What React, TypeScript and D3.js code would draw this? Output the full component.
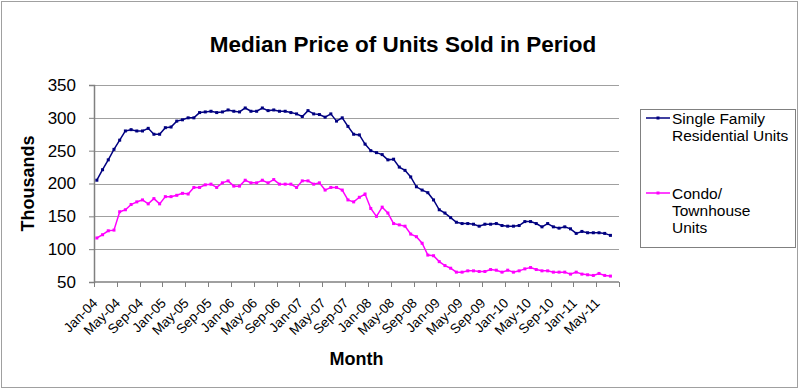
import React, { useEffect, useRef } from 'react';
import * as d3 from 'd3';

// categories: one per month, Jan-04 .. Aug-11 (data stops at Jul-11)
const months = d3.timeMonths(new Date(2004, 0, 1), new Date(2011, 8, 1)).map(d3.timeFormat('%b-%y'));

// median price, thousands
const singleFamily = [
  205, 221, 236, 252, 266, 280, 282, 280, 280, 284,
  275, 275, 285, 286, 295, 297, 300, 300, 308, 309,
  310, 308, 309, 312, 310, 309, 315, 310, 310, 315,
  311, 312, 310, 310, 308, 306, 302, 311, 306, 305,
  301, 306, 295, 300, 287, 275, 274, 260, 250, 247,
  244, 236, 237, 225, 220, 210, 195, 190, 186, 175,
  160, 155, 148, 141, 139, 139, 138, 135, 138, 138,
  139, 136, 135, 135, 136, 142, 142, 139, 134, 139,
  134, 132, 134, 131, 124, 127, 125, 125, 125, 124,
  121,
];

const condoTownhouse = [
  117, 122, 128, 129, 157, 160, 168, 172, 175, 169,
  177, 169, 180, 180, 182, 185, 184, 194, 194, 198,
  199, 194, 201, 204, 196, 196, 205, 201, 201, 205,
  201, 206, 199, 199, 199, 194, 204, 204, 199, 201,
  190, 194, 194, 190, 175, 172, 179, 184, 162, 150,
  164, 155, 139, 137, 135, 123, 119, 109, 91, 90,
  81, 75, 71, 65, 65, 67, 67, 66, 66, 69,
  68, 65, 68, 65, 67, 70, 72, 69, 67, 67,
  65, 65, 65, 62, 65, 62, 61, 60, 63, 60,
  59,
];

const yTicks = [50, 100, 150, 200, 250, 300, 350];

const seriesList = [
  { lines: ['Single Family', 'Residential Units'], values: singleFamily, color: '#000080' },
  { lines: ['Condo/', 'Townhouse', 'Units'], values: condoTownhouse, color: '#ff00ff' },
];

const FONT = 'Arial, "Liberation Sans", sans-serif';

export default function App() {
  const chartRef = useRef<SVGSVGElement>(null);

  useEffect(() => {
    if (!chartRef.current) return;
    d3.select(chartRef.current).selectAll('*').remove();

    const svg = d3.select(chartRef.current);
    const width = 800;
    const height = 390;
    const plot = { left: 94, right: 619, top: 85, bottom: 282 };

    // outer frame
    svg.append('rect')
      .attr('x', 1.5).attr('y', 1.5)
      .attr('width', width - 4).attr('height', height - 4)
      .attr('fill', '#fff')
      .attr('stroke', '#a0a0a0');

    const x = d3.scaleBand<string>()
      .domain(months)
      .range([plot.left, plot.right])
      .padding(0);

    const y = d3.scaleLinear()
      .domain([50, 350])
      .range([plot.bottom, plot.top]);

    const cx = (i: number) => (x(months[i]) as number) + x.bandwidth() / 2;

    // gridlines
    svg.append('g')
      .selectAll('line')
      .data(yTicks.filter(t => t > 50))
      .enter()
      .append('line')
      .attr('x1', plot.left).attr('x2', plot.right)
      .attr('y1', d => Math.round(y(d)) + 0.5).attr('y2', d => Math.round(y(d)) + 0.5)
      .attr('stroke', '#a0a0a0');

    // y axis
    const yAxis = svg.append('g')
      .attr('transform', `translate(${plot.left},0)`)
      .call(d3.axisLeft(y).tickValues(yTicks).tickSize(5).tickPadding(13));
    yAxis.select('.domain').attr('stroke', '#808080').attr('stroke-width', 1.5);
    yAxis.selectAll('.tick line').attr('stroke', '#808080');
    yAxis.selectAll('.tick text')
      .attr('font-family', FONT)
      .attr('font-size', 17)
      .attr('fill', '#000');

    // x axis: ticks every 4 months on category boundaries
    const boundaries = months.filter((_, i) => i % 4 === 0).map(m => x(m) as number).concat([plot.right]);
    const xAxis = svg.append('g');
    xAxis.append('line')
      .attr('x1', plot.left).attr('x2', plot.right)
      .attr('y1', plot.bottom).attr('y2', plot.bottom)
      .attr('stroke', '#808080').attr('stroke-width', 1.5);
    xAxis.selectAll('line.tk')
      .data(boundaries)
      .enter()
      .append('line')
      .attr('class', 'tk')
      .attr('x1', d => Math.round(d) + 0.5).attr('x2', d => Math.round(d) + 0.5)
      .attr('y1', plot.bottom).attr('y2', plot.bottom + 5)
      .attr('stroke', '#808080');
    xAxis.selectAll('text')
      .data(months.filter((_, i) => i % 4 === 0))
      .enter()
      .append('text')
      .attr('transform', d => `translate(${(x(d) as number) + x.bandwidth() / 2 + 1.5},${plot.bottom + 22}) rotate(-45)`)
      .attr('text-anchor', 'end')
      .attr('font-family', FONT)
      .attr('font-size', 13.5)
      .text(d => d);

    // series
    const line = d3.line<number>()
      .x((_, i) => cx(i))
      .y(d => y(d));

    seriesList.forEach(s => {
      svg.append('path')
        .datum(s.values)
        .attr('fill', 'none')
        .attr('stroke', s.color)
        .attr('stroke-width', 1.5)
        .attr('d', line);
      svg.append('g')
        .selectAll('rect')
        .data(s.values)
        .enter()
        .append('rect')
        .attr('x', (_, i) => cx(i) - 1.5)
        .attr('y', d => y(d) - 1.5)
        .attr('width', 3).attr('height', 3)
        .attr('fill', s.color);
    });

    // titles
    svg.append('text')
      .attr('x', 403).attr('y', 52)
      .attr('text-anchor', 'middle')
      .attr('font-family', FONT)
      .attr('font-size', 22.5)
      .attr('font-weight', 'bold')
      .text('Median Price of Units Sold in Period');

    svg.append('text')
      .attr('x', (plot.left + plot.right) / 2).attr('y', 365)
      .attr('text-anchor', 'middle')
      .attr('font-family', FONT)
      .attr('font-size', 18)
      .attr('font-weight', 'bold')
      .text('Month');

    svg.append('text')
      .attr('transform', `translate(34,${(plot.top + plot.bottom) / 2}) rotate(-90)`)
      .attr('text-anchor', 'middle')
      .attr('font-family', FONT)
      .attr('font-size', 18)
      .attr('font-weight', 'bold')
      .text('Thousands');

    // legend
    const legend = svg.append('g');
    legend.append('rect')
      .attr('x', 640.5).attr('y', 109.5)
      .attr('width', 155).attr('height', 138)
      .attr('fill', '#fff')
      .attr('stroke', '#808080');

    const itemY = [118, 193];
    seriesList.forEach((s, k) => {
      const yy = itemY[k];
      legend.append('line')
        .attr('x1', 646).attr('x2', 670)
        .attr('y1', yy).attr('y2', yy)
        .attr('stroke', s.color).attr('stroke-width', 1.5);
      legend.append('rect')
        .attr('x', 656.5).attr('y', yy - 1.5)
        .attr('width', 3).attr('height', 3)
        .attr('fill', s.color);
      s.lines.forEach((t, j) => {
        legend.append('text')
          .attr('x', 672).attr('y', yy + 5.5 + j * 17)
          .attr('font-family', FONT)
          .attr('font-size', 15.5)
          .text(t);
      });
    });
  }, []);

  return (
    <svg
      ref={chartRef}
      width={800}
      height={390}
      style={{ position: 'absolute', left: 0, top: 0, background: '#fff' }}
    />
  );
}
